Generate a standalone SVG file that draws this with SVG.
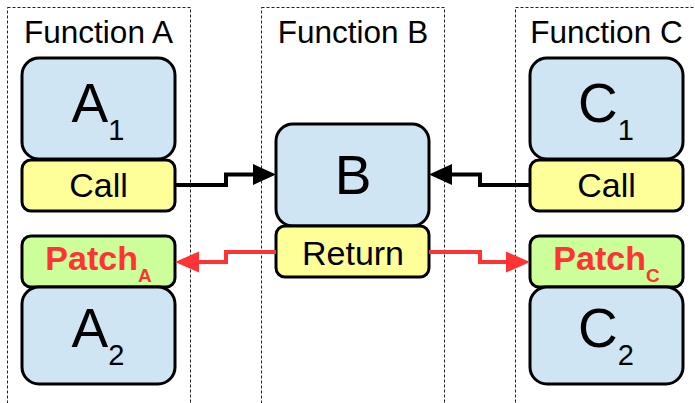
<svg xmlns="http://www.w3.org/2000/svg" width="695" height="403" viewBox="0 0 695 403">
<defs>
<style>
.col{fill:none;stroke:#222;stroke-width:1;stroke-dasharray:3,2}
.blue{fill:#cfe5f3;stroke:#000;stroke-width:3}
.yel{fill:#ffff99;stroke:#000;stroke-width:3}
.grn{fill:#ccff99;stroke:#000;stroke-width:3}
.t{font-family:"Liberation Sans",Arial,sans-serif;fill:#000;text-anchor:middle}
.title{font-size:31.5px}
.big{font-size:55px}
.sub{font-size:29px}
.lbl{font-size:34px}
.patch{font-size:34px;font-weight:bold;fill:#ff3333}
.psub{font-size:19px;font-weight:bold;fill:#ff3333}
.blk{fill:none;stroke:#000;stroke-width:4}
.red{fill:none;stroke:#ff3333;stroke-width:4}
.hb{fill:#000}
.hr{fill:#ff3333}
</style>
</defs>
<rect width="695" height="403" fill="#fff"/>
<g id="columns">
<rect class="col" x="7.5" y="7.5" width="183" height="410"/>
<rect class="col" x="261.5" y="7.5" width="183" height="410"/>
<rect class="col" x="515.5" y="7.5" width="200" height="410"/>
<text class="t title" x="98.5" y="43">Function A</text>
<text class="t title" x="353" y="43">Function B</text>
<text class="t title" x="606.5" y="43">Function C</text>
</g>
<g id="A1"><rect class="blue" x="22" y="58" width="153" height="101" rx="17"/><text class="t big" x="98" y="122">A<tspan class="sub" dy="18">1</tspan></text></g>
<g id="CallA"><rect class="yel" x="22" y="160" width="153" height="51" rx="9"/><text class="t lbl" x="98.5" y="197">Call</text></g>
<g id="PatchA"><rect class="grn" x="22" y="236" width="153" height="51" rx="9"/><text class="t patch" x="98.5" y="270">Patch<tspan class="psub" dy="12">A</tspan></text></g>
<g id="A2"><rect class="blue" x="22" y="287" width="153" height="97" rx="17"/><text class="t big" x="98" y="347">A<tspan class="sub" dy="18">2</tspan></text></g>
<g id="B"><rect class="blue" x="276" y="124" width="153" height="102" rx="17"/><text class="t big" x="353" y="194">B</text></g>
<g id="Return"><rect class="yel" x="276" y="226" width="153" height="51" rx="9"/><text class="t lbl" x="353" y="265">Return</text></g>
<g id="C1"><rect class="blue" x="530" y="58" width="153" height="101" rx="17"/><text class="t big" x="606" y="122">C<tspan class="sub" dy="18">1</tspan></text></g>
<g id="CallC"><rect class="yel" x="530" y="160" width="153" height="51" rx="9"/><text class="t lbl" x="606.5" y="197">Call</text></g>
<g id="PatchC"><rect class="grn" x="530" y="236" width="153" height="51" rx="9"/><text class="t patch" x="606.5" y="270">Patch<tspan class="psub" dy="12">C</tspan></text></g>
<g id="C2"><rect class="blue" x="530" y="287" width="153" height="97" rx="17"/><text class="t big" x="606" y="347">C<tspan class="sub" dy="18">2</tspan></text></g>
<g id="connectors">
<path class="blk" d="M175,185 H226 V174.5 H255"/>
<polygon class="hb" points="253,164 276,174.5 253,185"/>
<path class="blk" d="M530,185 H480 V174.5 H450"/>
<polygon class="hb" points="452,164 429,174.5 452,185"/>
<path class="red" d="M276,252 H226 V262 H197"/>
<polygon class="hr" points="199,251.5 175,262 199,272.5"/>
<path class="red" d="M429,252 H480 V262 H508"/>
<polygon class="hr" points="506,251.5 530,262 506,272.5"/>
</g>
</svg>
